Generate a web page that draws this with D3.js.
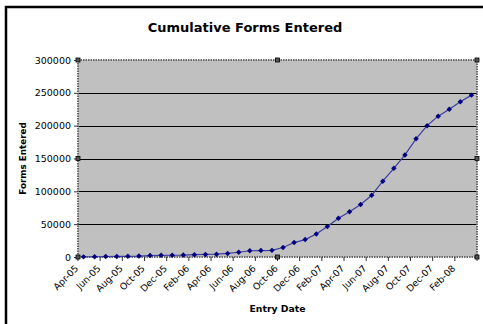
<!DOCTYPE html>
<html>
<head>
<meta charset="UTF-8">
<script src="https://cdn.jsdelivr.net/npm/d3@7/dist/d3.min.js"></script>
<style>
    body { margin: 0; background: #fff; overflow: hidden; }
    svg { display: block; }
    text { font-family: "DejaVu Sans", Verdana, sans-serif; }
</style>
</head>
<body>
<div id="chart"></div>
<script>
    // monthly entry dates, Apr-05 .. Mar-08
    var months = ["Apr-05","May-05","Jun-05","Jul-05","Aug-05","Sep-05","Oct-05","Nov-05","Dec-05","Jan-06","Feb-06","Mar-06",
                  "Apr-06","May-06","Jun-06","Jul-06","Aug-06","Sep-06","Oct-06","Nov-06","Dec-06","Jan-07","Feb-07","Mar-07",
                  "Apr-07","May-07","Jun-07","Jul-07","Aug-07","Sep-07","Oct-07","Nov-07","Dec-07","Jan-08","Feb-08","Mar-08"];
    // cumulative forms entered
    var formsEntered = [200, 400, 700, 900, 1100, 1400, 2200, 2500, 2700, 2900, 3600, 3900,
                        4300, 5500, 7200, 9500, 9800, 10100, 14500, 22000, 26500, 35000, 46500, 59000,
                        69000, 80000, 94000, 115500, 135000, 155500, 180000, 200000, 214500, 225000, 236500, 246500];
    var yTicks = [0, 50000, 100000, 150000, 200000, 250000, 300000];
    // every second month gets a label
    var xLabels = months.filter(function(d, i) { return i % 2 == 0; });

    var W = 483, H = 324;
    var plot = {left: 78, right: 477, top: 60, bottom: 257};

    var svg = d3.select("#chart").append("svg")
        .attr("width", W).attr("height", H);

    // chart area border - only left and top edges are inside the picture
    svg.append("path")
        .attr("d", d3.line()([[6, H + 5], [6, 7], [W + 5, 7]]))
        .attr("fill", "none")
        .attr("stroke", "#000").attr("stroke-width", 2.5);

    var x = d3.scaleBand().domain(months).range([plot.left, plot.right]);
    var y = d3.scaleLinear().domain([0, 300000]).range([plot.bottom, plot.top]);
    var bw = x.bandwidth();

    // plot background
    svg.append("rect")
        .attr("x", plot.left).attr("y", plot.top)
        .attr("width", plot.right - plot.left).attr("height", plot.bottom - plot.top)
        .attr("fill", "#c0c0c0");

    // gridlines
    svg.append("g").selectAll("line")
        .data(yTicks.filter(function(d) { return d > 0 && d < 300000; }))
        .enter().append("line")
        .attr("x1", plot.left).attr("x2", plot.right)
        .attr("y1", function(d) { return Math.round(y(d)) + 0.5; })
        .attr("y2", function(d) { return Math.round(y(d)) + 0.5; })
        .attr("stroke", "#000").attr("stroke-width", 1);

    // plot border - dotted grey like the excel selection look
    svg.append("rect")
        .attr("x", plot.left).attr("y", plot.top)
        .attr("width", plot.right - plot.left).attr("height", plot.bottom - plot.top)
        .attr("fill", "none")
        .attr("stroke", "#6a6a6a").attr("stroke-width", 2)
        .attr("stroke-dasharray", "1.5,1");

    // y axis
    var yAxis = d3.axisLeft(y).tickValues(yTicks).tickSize(4).tickPadding(3)
        .tickFormat(d3.format("d"));
    var gy = svg.append("g")
        .attr("transform", "translate(" + plot.left + ",0)")
        .call(yAxis);
    gy.select(".domain").remove();
    gy.selectAll("line").attr("stroke", "#333");
    gy.selectAll("text").attr("font-size", "9.5px").attr("fill", "#000")
        .attr("font-family", "DejaVu Sans, sans-serif");

    // x ticks sit on the band boundaries, every second month
    var gx = svg.append("g");
    gx.selectAll("line")
        .data(xLabels.concat(["end"]))
        .enter().append("line")
        .attr("x1", function(d) { return d == "end" ? plot.right : x(d); })
        .attr("x2", function(d) { return d == "end" ? plot.right : x(d); })
        .attr("y1", plot.bottom).attr("y2", plot.bottom + 4)
        .attr("stroke", "#333");
    gx.selectAll("text")
        .data(xLabels)
        .enter().append("text")
        .attr("transform", function(d) {
            return "translate(" + (x(d) + 1) + "," + (plot.bottom + 12) + ") rotate(-45)";
        })
        .attr("text-anchor", "end")
        .attr("font-size", "9.3px")
        .attr("fill", "#000")
        .text(function(d) { return d; });

    // line + diamond markers
    var pts = months.map(function(m, i) { return {m: m, v: formsEntered[i]}; });
    var line = d3.line()
        .x(function(d) { return x(d.m) + bw / 2; })
        .y(function(d) { return y(d.v); });
    svg.append("path")
        .datum(pts)
        .attr("d", line)
        .attr("fill", "none")
        .attr("stroke", "#3c3ca0").attr("stroke-width", 1.2);
    svg.append("g").selectAll("path")
        .data(pts)
        .enter().append("path")
        .attr("d", d3.symbol().type(d3.symbolSquare).size(15))
        .attr("transform", function(d) {
            return "translate(" + (x(d.m) + bw / 2) + "," + y(d.v) + ") rotate(45)";
        })
        .attr("fill", "#000080");

    // selection handles on the plot area
    var midX = (plot.left + plot.right) / 2, midY = (plot.top + plot.bottom) / 2;
    var handles = [[plot.left, plot.top], [midX, plot.top], [plot.right, plot.top], [plot.right, midY],
                   [plot.right, plot.bottom], [midX, plot.bottom], [plot.left, plot.bottom], [plot.left, midY]];
    svg.append("g").selectAll("rect")
        .data(handles)
        .enter().append("rect")
        .attr("x", function(d) { return d[0] - 2; })
        .attr("y", function(d) { return d[1] - 2; })
        .attr("width", 4).attr("height", 4)
        .attr("fill", "#555").attr("stroke", "#000").attr("stroke-width", 0.8);

    // titles
    svg.append("text")
        .attr("x", 245).attr("y", 32)
        .attr("text-anchor", "middle")
        .attr("font-size", "13px").attr("font-weight", "bold")
        .text("Cumulative Forms Entered");
    svg.append("text")
        .attr("x", midX).attr("y", 312)
        .attr("text-anchor", "middle")
        .attr("font-size", "9.3px").attr("font-weight", "bold")
        .text("Entry Date");
    svg.append("text")
        .attr("transform", "translate(26," + midY + ") rotate(-90)")
        .attr("text-anchor", "middle")
        .attr("font-size", "8.8px").attr("font-weight", "bold")
        .text("Forms Entered");
</script>
</body>
</html>
